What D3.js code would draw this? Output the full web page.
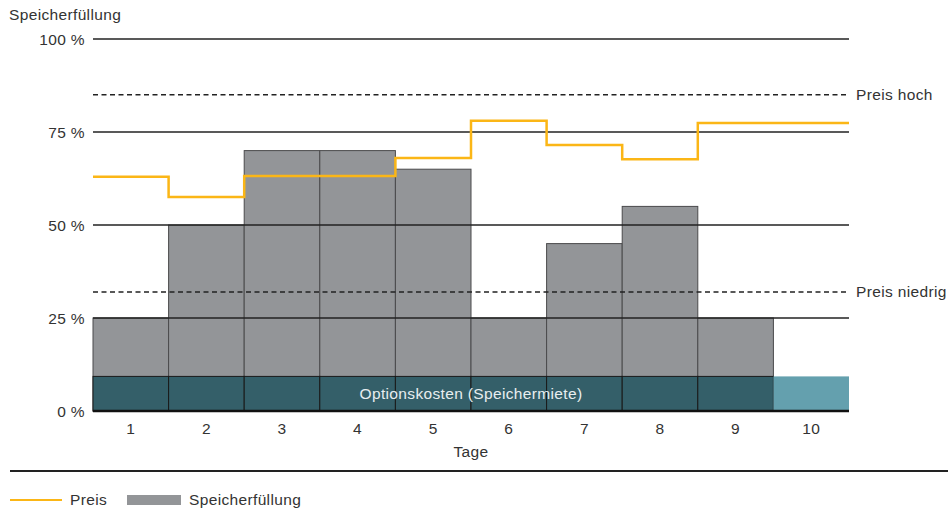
<!DOCTYPE html>
<html>
<head>
<meta charset="utf-8">
<script src="https://cdn.jsdelivr.net/npm/d3@7"></script>
<style>
  body { margin: 0; background: #fff; }
  svg text { font-family: "Liberation Sans", Arial, sans-serif; fill: #333; font-size: 15.5px; letter-spacing: 0.35px; }
</style>
</head>
<body>
<svg id="graph" width="948" height="510"></svg>
<script>
// data
var days = ['1', '2', '3', '4', '5', '6', '7', '8', '9', '10'];
var fillLevel = [25, 50, 70, 70, 65, 25, 45, 55, 25, 0];   // Speicherfüllung in %
var price = [63, 57.5, 63.2, 63.2, 68, 78, 71.5, 67.7, 77.4, 77.4];  // Preis (same % scale)
var optionCost = [9.3, 9.3, 9.3, 9.3, 9.3, 9.3, 9.3, 9.3, 9.3, 9.3];
var yTicks = [0, 25, 50, 75, 100];
var priceHigh = 85;
var priceLow = 32;

var MARGINS = { left: 93, right: 849, top: 39, bottom: 411 };

var vis = d3.select('#graph');

var xRange = d3.scaleBand()
  .domain(days)
  .range([MARGINS.left, MARGINS.right]);

var yRange = d3.scaleLinear()
  .domain([0, 100])
  .range([MARGINS.bottom, MARGINS.top]);

// storage bars
var bars = days.map(function (d, i) { return { day: d, v: fillLevel[i] }; })
  .filter(function (d) { return d.v > 0; });

vis.append('g').selectAll('rect')
  .data(bars)
  .enter().append('rect')
  .attr('x', function (d) { return xRange(d.day); })
  .attr('y', function (d) { return yRange(d.v); })
  .attr('width', xRange.bandwidth())
  .attr('height', function (d) { return yRange(0) - yRange(d.v); })
  .attr('fill', '#939598')
  .attr('stroke', '#4a4a4c')
  .attr('stroke-width', 1);

// option cost band
vis.append('g').selectAll('rect')
  .data(optionCost)
  .enter().append('rect')
  .attr('x', function (d, i) { return xRange(days[i]); })
  .attr('y', function (d) { return yRange(d); })
  .attr('width', xRange.bandwidth())
  .attr('height', function (d) { return yRange(0) - yRange(d); })
  .attr('fill', function (d, i) { return fillLevel[i] > 0 ? '#345f69' : '#64a0ae'; })
  .attr('stroke', function (d, i) { return fillLevel[i] > 0 ? '#1a1a1a' : 'none'; })
  .attr('stroke-width', 1);

vis.append('text')
  .attr('x', (MARGINS.left + MARGINS.right) / 2)
  .attr('y', yRange(optionCost[0] / 2) + 5)
  .attr('text-anchor', 'middle')
  .style('fill', '#e8eef0')
  .text('Optionskosten (Speichermiete)');

// grid lines
vis.append('g').selectAll('line')
  .data(yTicks.filter(function (t) { return t > 0; }))
  .enter().append('line')
  .attr('x1', MARGINS.left)
  .attr('x2', MARGINS.right)
  .attr('y1', function (d) { return yRange(d); })
  .attr('y2', function (d) { return yRange(d); })
  .attr('stroke', '#222')
  .attr('stroke-width', 1.5);

// y tick labels
vis.append('g').selectAll('text')
  .data(yTicks)
  .enter().append('text')
  .attr('x', 85)
  .attr('y', function (d) { return yRange(d) + 5.5; })
  .attr('text-anchor', 'end')
  .text(function (d) { return d + ' %'; });

// x axis
var xAxis = d3.axisBottom(xRange).tickSize(0).tickPadding(12);
var gx = vis.append('g')
  .attr('transform', 'translate(0,' + MARGINS.bottom + ')')
  .call(xAxis);
gx.select('.domain').remove();
gx.selectAll('text')
  .style('font-size', '15.5px')
  .style('font-family', '"Liberation Sans", Arial, sans-serif')
  .attr('fill', '#333');

vis.append('line')
  .attr('x1', MARGINS.left)
  .attr('x2', MARGINS.right)
  .attr('y1', yRange(0))
  .attr('y2', yRange(0))
  .attr('stroke', '#111')
  .attr('stroke-width', 2.5);

vis.append('text')
  .attr('x', (MARGINS.left + MARGINS.right) / 2)
  .attr('y', 457)
  .attr('text-anchor', 'middle')
  .text('Tage');

// price thresholds
[[priceHigh, 'Preis hoch'], [priceLow, 'Preis niedrig']].forEach(function (p) {
  vis.append('line')
    .attr('x1', MARGINS.left)
    .attr('x2', MARGINS.right)
    .attr('y1', yRange(p[0]))
    .attr('y2', yRange(p[0]))
    .attr('stroke', '#222')
    .attr('stroke-width', 1.5)
    .attr('stroke-dasharray', '5,3.5');
  vis.append('text')
    .attr('x', 856)
    .attr('y', yRange(p[0]) + 5.5)
    .text(p[1]);
});

// price step line
var stepData = price.map(function (v, i) { return { day: days[i], v: v }; });
var stepPts = stepData.concat([{ day: null, v: price[price.length - 1] }]);
var lineGen = d3.line()
  .x(function (d) { return d.day === null ? MARGINS.right : xRange(d.day); })
  .y(function (d) { return yRange(d.v); })
  .curve(d3.curveStepAfter);
vis.append('path')
  .attr('d', lineGen(stepPts))
  .attr('stroke', '#fbb616')
  .attr('stroke-width', 2.5)
  .attr('fill', 'none');

// y title
vis.append('text')
  .attr('x', 9)
  .attr('y', 20)
  .text('Speicherfüllung');

// separator
vis.append('line')
  .attr('x1', 10).attr('x2', 948)
  .attr('y1', 471).attr('y2', 471)
  .attr('stroke', '#222').attr('stroke-width', 2);

// legend
vis.append('line')
  .attr('x1', 10).attr('x2', 62)
  .attr('y1', 500).attr('y2', 500)
  .attr('stroke', '#fbb616').attr('stroke-width', 2);
vis.append('text').attr('x', 70).attr('y', 505).text('Preis');
vis.append('rect')
  .attr('x', 127).attr('y', 495).attr('width', 54).attr('height', 10)
  .attr('fill', '#939598');
vis.append('text').attr('x', 189).attr('y', 505).text('Speicherfüllung');
</script>
</body>
</html>
